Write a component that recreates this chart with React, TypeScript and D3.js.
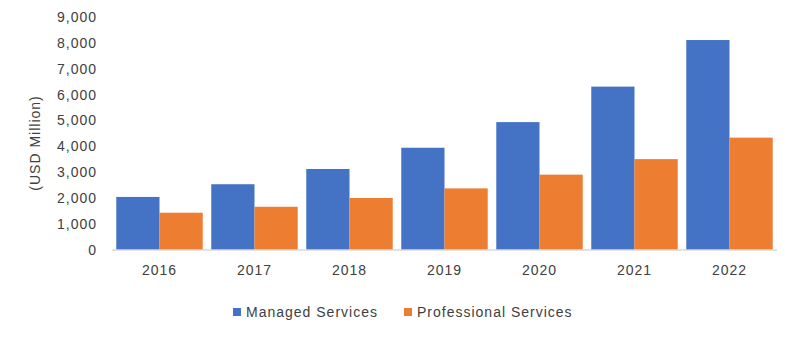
import React from "react";
import * as d3 from "d3";

const years = ["2016", "2017", "2018", "2019", "2020", "2021", "2022"];
const managed = [2050, 2540, 3130, 3950, 4940, 6310, 8110];
const professional = [1440, 1670, 2010, 2380, 2910, 3510, 4340];
const yTicks = [0, 1000, 2000, 3000, 4000, 5000, 6000, 7000, 8000, 9000];
const seriesNames = ["Managed Services", "Professional Services"];
const colors = ["#4472C4", "#ED7D31"];

export default function App() {
  const W = 800, H = 353;
  const x = d3.scaleBand<string>().domain(years).range([112, 777]).paddingInner(0.09).paddingOuter(0.045);
  const y = d3.scaleLinear().domain([0, 9000]).range([250, 17]);
  const sub = d3.scaleBand<string>().domain(seriesNames).range([0, x.bandwidth()]);
  const fmt = d3.format(",");
  const series = [managed, professional];
  const font = "'Liberation Sans', Arial, sans-serif";
  const textColor = "#404040";
  return (
    <svg width={W} height={H} style={{ position: "absolute", left: 0, top: 0, background: "#fff" }} fontFamily={font}>
      {series.map((vals, si) =>
        vals.map((v, i) => (
          <rect key={`${si}-${i}`} x={(x(years[i]) ?? 0) + (sub(seriesNames[si]) ?? 0)} y={y(v)}
            width={sub.bandwidth()} height={y(0) - y(v)} fill={colors[si]} />
        ))
      )}
      <line x1={112} x2={777} y1={y(0)} y2={y(0)} stroke="#d9d9d9" strokeWidth={1.5} />
      {yTicks.map((t) => (
        <text key={t} x={97} y={y(t)} dy="0.35em" textAnchor="end" fontSize={14} letterSpacing={1} fill={textColor}>{fmt(t)}</text>
      ))}
      {years.map((yr) => (
        <text key={yr} x={(x(yr) ?? 0) + x.bandwidth() / 2} y={270} dy="0.35em" textAnchor="middle" fontSize={14} letterSpacing={1} fill={textColor}>{yr}</text>
      ))}
      <text transform={`translate(35,143) rotate(-90)`} textAnchor="middle" dy="0.35em" fontSize={14} letterSpacing={1} fill={textColor}>(USD Million)</text>
      {seriesNames.map((n, i) => {
        const lx = [233, 404][i];
        return (
          <g key={n}>
            <rect x={lx} y={308} width={8} height={8} fill={colors[i]} />
            <text x={lx + 13} y={312} dy="0.35em" fontSize={14} letterSpacing={1} fill={textColor}>{n}</text>
          </g>
        );
      })}
    </svg>
  );
}
